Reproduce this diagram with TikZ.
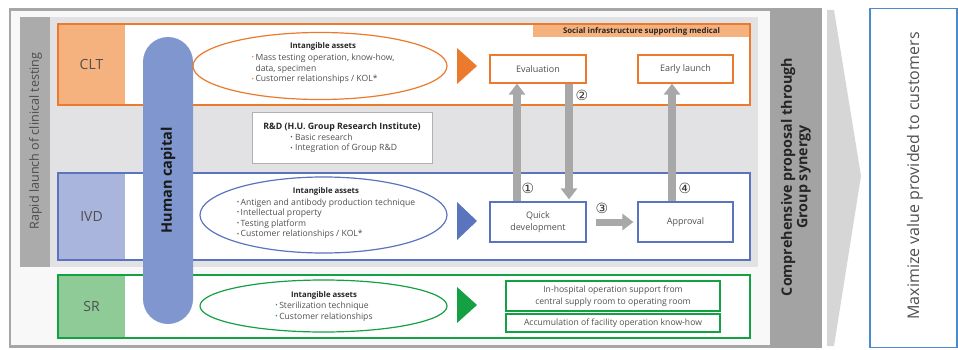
\documentclass[tikz,border=0pt]{standalone}
\usepackage{fontspec}
\setmainfont{Open Sans}
\newfontfamily\dejavu{DejaVu Sans}
\usetikzlibrary{arrows.meta,shapes.geometric}
\definecolor{framec}{HTML}{A6A6A6}
\definecolor{bgw}{HTML}{F8F8F8}
\definecolor{innergray}{HTML}{E2E2E4}
\definecolor{bargray}{HTML}{ABABAB}
\definecolor{bandc}{HTML}{A3A3A3}
\definecolor{chevc}{HTML}{D6D6D6}
\definecolor{orng}{HTML}{EC7A2C}
\definecolor{orngL}{HTML}{F5B27F}
\definecolor{blu}{HTML}{5A74BE}
\definecolor{bluL}{HTML}{AAB5DD}
\definecolor{grn}{HTML}{16A044}
\definecolor{grnL}{HTML}{8ECB96}
\definecolor{pillc}{HTML}{7F97CE}
\definecolor{arrc}{HTML}{A8A8A8}
\definecolor{txt}{HTML}{505050}
\definecolor{rboxc}{HTML}{4A8BC9}
\definecolor{rdgray}{HTML}{B0B0B0}
\newcommand\bul[1]{\textcolor{#1}{\raisebox{0.7pt}{\fontsize{6.5}{6}\selectfont •}}}
\newcommand\ttl{\multicolumn{2}{c}{\bfseries\fontsize{7.8}{9}\selectfont\color{black!85} Intangible assets}}
\tikzset{
  plainbox/.style={fill=white, inner sep=0pt, minimum width=692pt},
  labtxt/.style={font=\fontsize{14}{16}\selectfont, text=txt},
  ell/.style={ellipse, line width=1.2pt, inner sep=0pt, fill=white},
  small/.style={font=\fontsize{8.6}{10.6}\selectfont, text=txt, inner sep=0pt},
  stepbox/.style={draw, line width=1.2pt, fill=white, inner sep=0pt, align=center, font=\fontsize{9}{12}\selectfont, text=txt},
  bigarr/.style={draw=arrc, line width=7.5pt, -{Triangle[width=16pt,length=11pt]}},
  numlab/.style={font=\dejavu\fontsize{14}{14}\selectfont, text=black!80, inner sep=0pt},
}
\begin{document}
\begin{tikzpicture}[x=1pt,y=-1pt]
\useasboundingbox (0,0) rectangle (958,350);
% outer frame
\draw[draw=framec, line width=2.5pt, fill=bgw] (10,9.3) rectangle (821,346.7);
\fill[bandc] (770,8) rectangle (822.2,348);
\node[rotate=90, align=center, font=\bfseries\fontsize{14.3}{15.5}\selectfont, text=black!85] (comp) at (796,177) {Comprehensive proposal through\\Group synergy};
% chevron
\fill[chevc] (827,10) -- (834,10) -- (861,176) -- (834,346) -- (827,346) -- cycle;
% right box
\node[draw=rboxc, line width=1.4pt, minimum width=87pt, minimum height=339pt, inner sep=0pt] (value) at (913.5,178) {};
\node[rotate=90, font=\fontsize{16}{18}\selectfont, text=txt] (valtxt) at (915,176) {Maximize value provided to customers};
% inner gray area
\fill[innergray] (20,17) rectangle (758,267);
\fill[bargray] (20,17) rectangle (50,267);
\node[rotate=90, font=\fontsize{12.6}{14}\selectfont, text=black!70] (rapid) at (35.5,141) {Rapid launch of clinical testing};
% CLT
\node[plainbox, minimum height=81pt] (clt) at (404,64.5) {};
\fill[orngL] (clt.north west) rectangle ([xshift=67pt]clt.south west);
\fill[orngL] (533,24) rectangle (clt.north east |- 0,37);
\draw[orng, line width=1.6pt] (clt.north west) rectangle (clt.south east);
\node[labtxt] (cltl) at (91.5,64.5) {CLT};
\node[font=\bfseries\fontsize{7.8}{9}\selectfont, text=black!85] (social) at (641.5,31) {Social infrastructure supporting medical};
% IVD
\node[plainbox, minimum height=87pt] (ivd) at (404,216.5) {};
\fill[bluL] (ivd.north west) rectangle ([xshift=67pt]ivd.south west);
\draw[blu, line width=1.6pt] (ivd.north west) rectangle (ivd.south east);
\node[labtxt] (ivdl) at (91.5,216.5) {IVD};
% SR
\node[plainbox, minimum height=63pt] (sr) at (404,306.5) {};
\fill[grnL] (sr.north west) rectangle ([xshift=67pt]sr.south west);
\draw[grn, line width=1.6pt] (sr.north west) rectangle (sr.south east);
\node[labtxt] (srl) at (91.5,306.5) {SR};
% Human capital pill
\node[fill=pillc, rounded corners=25pt, minimum width=50pt, minimum height=287pt, inner sep=0pt] (hc) at (168,180.5) {};
\node[rotate=90, font=\bfseries\fontsize{14.5}{16}\selectfont, text=black!90] (hctxt) at (hc) {Human capital};
% ellipses
\node[ell, draw=orng, minimum width=254pt, minimum height=67pt] (e1) at (320,66) {};
\node[small] (t1) at (323,63) {\begin{tabular}{@{}l@{\,}l@{}}\ttl\\[1.5pt]
\bul{orng} & Mass testing operation, know-how,\\
 & data, specimen\\
\bul{orng} & Customer relationships / KOL*\end{tabular}};
\node[ell, draw=blu, minimum width=247pt, minimum height=76pt] (e2) at (323.5,215) {};
\node[small] (t2) at (326,213) {\begin{tabular}{@{}l@{\,}l@{}}\ttl\\[1pt]
\bul{txt} & Antigen and antibody production technique\\
\bul{txt} & Intellectual property\\
\bul{txt} & Testing platform\\
\bul{txt} & Customer relationships / KOL*\end{tabular}};
\node[ell, draw=grn, minimum width=247pt, minimum height=52pt] (e3) at (323.5,306) {};
\node[small] (t3) at (324,306) {\begin{tabular}{@{}l@{\,}l@{}}\ttl\\[1pt]
\bul{grn} & Sterilization technique\\
\bul{grn} & Customer relationships\end{tabular}};
% triangles
\fill[orng] (457,48) -- (477,66) -- (457,84) -- cycle;
\fill[blu] (457,202) -- (477,221) -- (457,240) -- cycle;
\fill[grn] (457,287) -- (477,305) -- (457,323) -- cycle;
% R&D
\node[draw=rdgray, fill=white, line width=1pt, minimum width=180pt, minimum height=50pt, small] (rd) at (342,138) {\begin{tabular}{@{}l@{}}{\bfseries\fontsize{8.8}{10}\selectfont\color{black!85}R\&D (H.U. Group Research Institute)}\\
\hspace*{27pt}\bul{txt} Basic research\\
\hspace*{27pt}\bul{txt} Integration of Group R\&D\end{tabular}};
% step boxes
\node[stepbox, draw=orng, minimum width=96pt, minimum height=28pt] (ev) at (538,69) {Evaluation};
\node[stepbox, draw=orng, minimum width=95pt, minimum height=28pt] (el) at (685.5,69) {Early launch};
\node[stepbox, draw=blu, minimum width=96pt, minimum height=40pt] (qd) at (538,222) {Quick\\development};
\node[stepbox, draw=blu, minimum width=95pt, minimum height=40pt] (ap) at (685.5,222) {Approval};
\node[stepbox, draw=grn, minimum width=214pt, minimum height=30pt, font=\fontsize{8.6}{11.5}\selectfont] (ih) at (613,296) {In-hospital operation support from\\central supply room to operating room};
\node[stepbox, draw=grn, minimum width=214pt, minimum height=18pt, font=\fontsize{8.6}{11}\selectfont] (acc) at (613,323) {Accumulation of facility operation know-how};
% arrows
\draw[bigarr] ([xshift=-21pt]qd.north) -- ([xshift=-21pt]ev.south);
\draw[bigarr] ([xshift=31pt]ev.south) -- ([xshift=31pt,yshift=2pt]qd.north);
\draw[bigarr] ([xshift=-13.5pt]ap.north) -- ([xshift=-13.5pt]el.south);
\draw[bigarr, line width=7pt] ([xshift=9pt]qd.east) -- ([xshift=-4pt]ap.west);
% numbers
\node[numlab] (n1) at (528,188) {①};
\node[numlab] (n2) at (582,95) {②};
\node[numlab] (n3) at (602,208) {③};
\node[numlab] (n4) at (685,188) {④};
\end{tikzpicture}
\end{document}
